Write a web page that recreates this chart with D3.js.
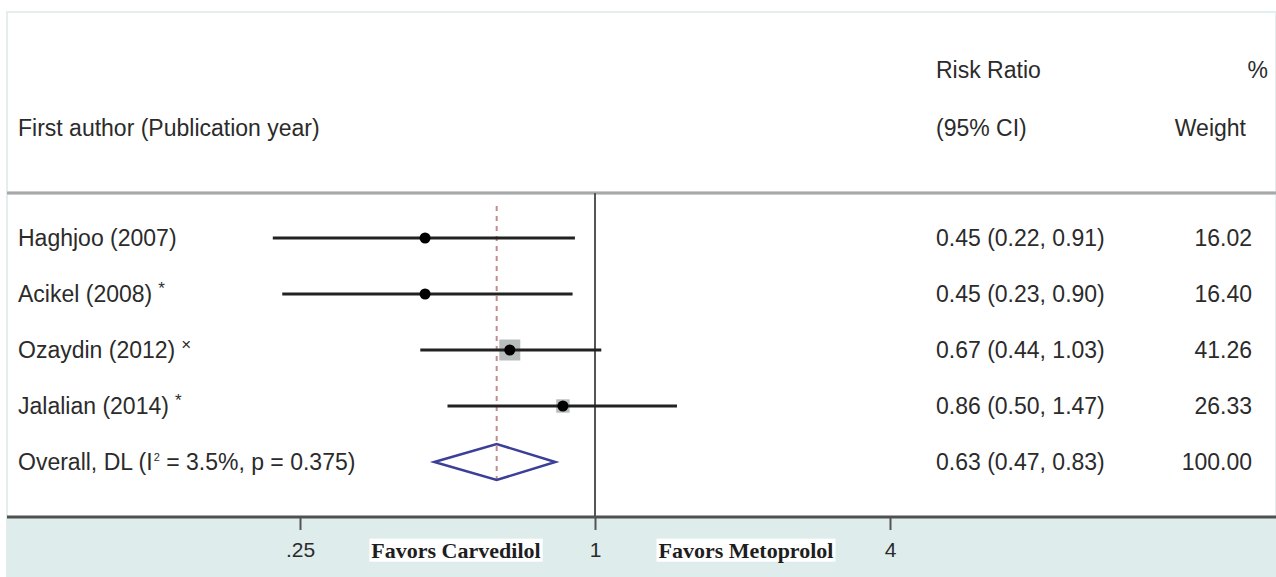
<!DOCTYPE html>
<html><head><meta charset="utf-8">
<script src="https://cdn.jsdelivr.net/npm/d3@7"></script>
<style>
html,body{margin:0;padding:0;background:#fff;}
svg{display:block;}
text{font-family:"Liberation Sans",Arial,sans-serif;fill:#2b2b2b;}
</style></head>
<body>
<svg id="chart" width="1276" height="577"></svg>
<script>
// ---- data ----
const studies = ["Haghjoo (2007)", "Acikel (2008)", "Ozaydin (2012)", "Jalalian (2014)"];
const studyMarks = ["", "*", "×", "*"];
const riskRatio = [0.45, 0.45, 0.67, 0.86];
const ciLower = [0.22, 0.23, 0.44, 0.50];
const ciUpper = [0.91, 0.90, 1.03, 1.47];
const weights = [16.02, 16.40, 41.26, 26.33];
const overallRR = 0.63, overallLower = 0.47, overallUpper = 0.83, overallWeight = 100.00;
const overallLabel = ["Overall, DL (I", "2", " = 3.5%, p = 0.375)"];
const tickValues = [0.25, 1, 4];
const tickLabels = [".25", "1", "4"];
const favorsLeft = "Favors Carvedilol", favorsRight = "Favors Metoprolol";
const headers = {ci1: "Risk Ratio", ci2: "(95% CI)", w1: "%", w2: "Weight", study: "First author (Publication year)"};

const fmt = d3.format(".2f");
const svg = d3.select("#chart");
const W = 1276, H = 577;

const x = d3.scaleLog().base(2).domain([0.25, 4]).range([300, 890]);
const rows = d3.range(studies.length + 1);
const y = d3.scalePoint().domain(rows).range([238, 462]);
const box = d3.scaleLinear().domain([0, 41.26]).range([0, 21]);

const axisY = 517, headerY = 193;

// frame
svg.append("rect").attr("x", 7).attr("y", 12).attr("width", W - 7).attr("height", H - 12)
  .attr("fill", "#fff").attr("stroke", "#e3eeee").attr("stroke-width", 2);
svg.append("rect").attr("x", 7).attr("y", axisY).attr("width", W - 7).attr("height", H - axisY)
  .attr("fill", "#dfecec");

// header separator
svg.append("line").attr("x1", 7).attr("x2", W).attr("y1", headerY).attr("y2", headerY)
  .attr("stroke", "#c8cccc").attr("stroke-width", 4);
svg.append("line").attr("x1", 7).attr("x2", W).attr("y1", headerY).attr("y2", headerY)
  .attr("stroke", "#9a9e9e").attr("stroke-width", 1.5);

// headers
const fs = 23;
svg.append("text").attr("x", 18).attr("y", 128).attr("dy", "0.35em").attr("font-size", fs).text(headers.study);
svg.append("text").attr("x", 936).attr("y", 70).attr("dy", "0.35em").attr("font-size", fs).text(headers.ci1);
svg.append("text").attr("x", 936).attr("y", 128).attr("dy", "0.35em").attr("font-size", fs).text(headers.ci2);
svg.append("text").attr("x", 1268).attr("y", 70).attr("dy", "0.35em").attr("font-size", fs).attr("text-anchor", "end").text(headers.w1);
svg.append("text").attr("x", 1246).attr("y", 128).attr("dy", "0.35em").attr("font-size", fs).attr("text-anchor", "end").text(headers.w2);

// null line at 1
svg.append("line").attr("x1", x(1)).attr("x2", x(1)).attr("y1", headerY).attr("y2", axisY)
  .attr("stroke", "#555").attr("stroke-width", 2);

// overall dashed line
svg.append("line").attr("x1", x(overallRR)).attr("x2", x(overallRR)).attr("y1", 206).attr("y2", 486)
  .attr("stroke", "#c58a8e").attr("stroke-width", 2).attr("stroke-dasharray", "5,5");

// study rows
const data = studies.map((s, i) => ({s, m: studyMarks[i], rr: riskRatio[i], lo: ciLower[i], hi: ciUpper[i], w: weights[i], i}));

const g = svg.append("g");
data.forEach(d => {
  const cy = y(d.i);
  const b = box(d.w);
  g.append("rect").attr("x", x(d.rr) - b / 2).attr("y", cy - b / 2).attr("width", b).attr("height", b)
    .attr("fill", "#b9bcbc");
  g.append("line").attr("x1", x(d.lo)).attr("x2", x(d.hi)).attr("y1", cy).attr("y2", cy)
    .attr("stroke", "#222").attr("stroke-width", 3);
  g.append("circle").attr("cx", x(d.rr)).attr("cy", cy).attr("r", 5.5).attr("fill", "#000");
  const t = g.append("text").attr("x", 18).attr("y", cy).attr("dy", "0.35em").attr("font-size", fs);
  t.append("tspan").text(d.s);
  if (d.m) t.append("tspan").attr("dx", 6).attr("dy", -8).attr("font-size", 17).text(d.m);
  g.append("text").attr("x", 936).attr("y", cy).attr("dy", "0.35em").attr("font-size", fs)
    .text(`${fmt(d.rr)} (${fmt(d.lo)}, ${fmt(d.hi)})`);
  g.append("text").attr("x", 1252).attr("y", cy).attr("dy", "0.35em").attr("font-size", fs).attr("text-anchor", "end")
    .text(fmt(d.w));
});

// overall row
const oy = y(studies.length);
const dh = 18;
svg.append("path")
  .attr("d", `M${x(overallLower)},${oy} L${x(overallRR)},${oy - dh} L${x(overallUpper)},${oy} L${x(overallRR)},${oy + dh} Z`)
  .attr("fill", "none").attr("stroke", "#3b3f97").attr("stroke-width", 2.5);
const ot = svg.append("text").attr("x", 18).attr("y", oy).attr("dy", "0.35em").attr("font-size", fs);
ot.append("tspan").text(overallLabel[0]);
ot.append("tspan").attr("dx", 1).attr("dy", -9).attr("font-size", 11).text(overallLabel[1]);
ot.append("tspan").attr("dy", 9).text(overallLabel[2]);
svg.append("text").attr("x", 936).attr("y", oy).attr("dy", "0.35em").attr("font-size", fs)
  .text(`${fmt(overallRR)} (${fmt(overallLower)}, ${fmt(overallUpper)})`);
svg.append("text").attr("x", 1252).attr("y", oy).attr("dy", "0.35em").attr("font-size", fs).attr("text-anchor", "end")
  .text(fmt(overallWeight));

// axis
const axis = d3.axisBottom(x).tickValues(tickValues).tickFormat((d, i) => tickLabels[i]).tickSize(13).tickPadding(12);
const ax = svg.append("g").attr("transform", `translate(0,${axisY})`).call(axis);
ax.select(".domain").remove();
ax.selectAll(".tick line").attr("stroke", "#555").attr("stroke-width", 2);
ax.selectAll(".tick text").attr("font-size", 21).attr("font-family", "Liberation Sans, Arial, sans-serif").attr("fill", "#333");
svg.append("line").attr("x1", 7).attr("x2", W).attr("y1", axisY).attr("y2", axisY)
  .attr("stroke", "#505050").attr("stroke-width", 3);

// favors labels
[[favorsLeft, 456], [favorsRight, 746]].forEach(([txt, cx]) => {
  const t = svg.append("text").attr("x", cx).attr("y", 550).attr("dy", "0.35em").attr("text-anchor", "middle")
    .attr("font-weight", "bold").attr("font-size", 22)
    .style("font-family", "'Liberation Serif', 'Times New Roman', serif").style("fill", "#1e1e1e").text(txt);
  const bb = t.node().getBBox();
  svg.insert("rect", () => t.node()).attr("x", bb.x - 2).attr("y", bb.y + 1).attr("width", bb.width + 4).attr("height", bb.height - 2)
    .attr("fill", "#fff");
});
</script>
</body></html>
